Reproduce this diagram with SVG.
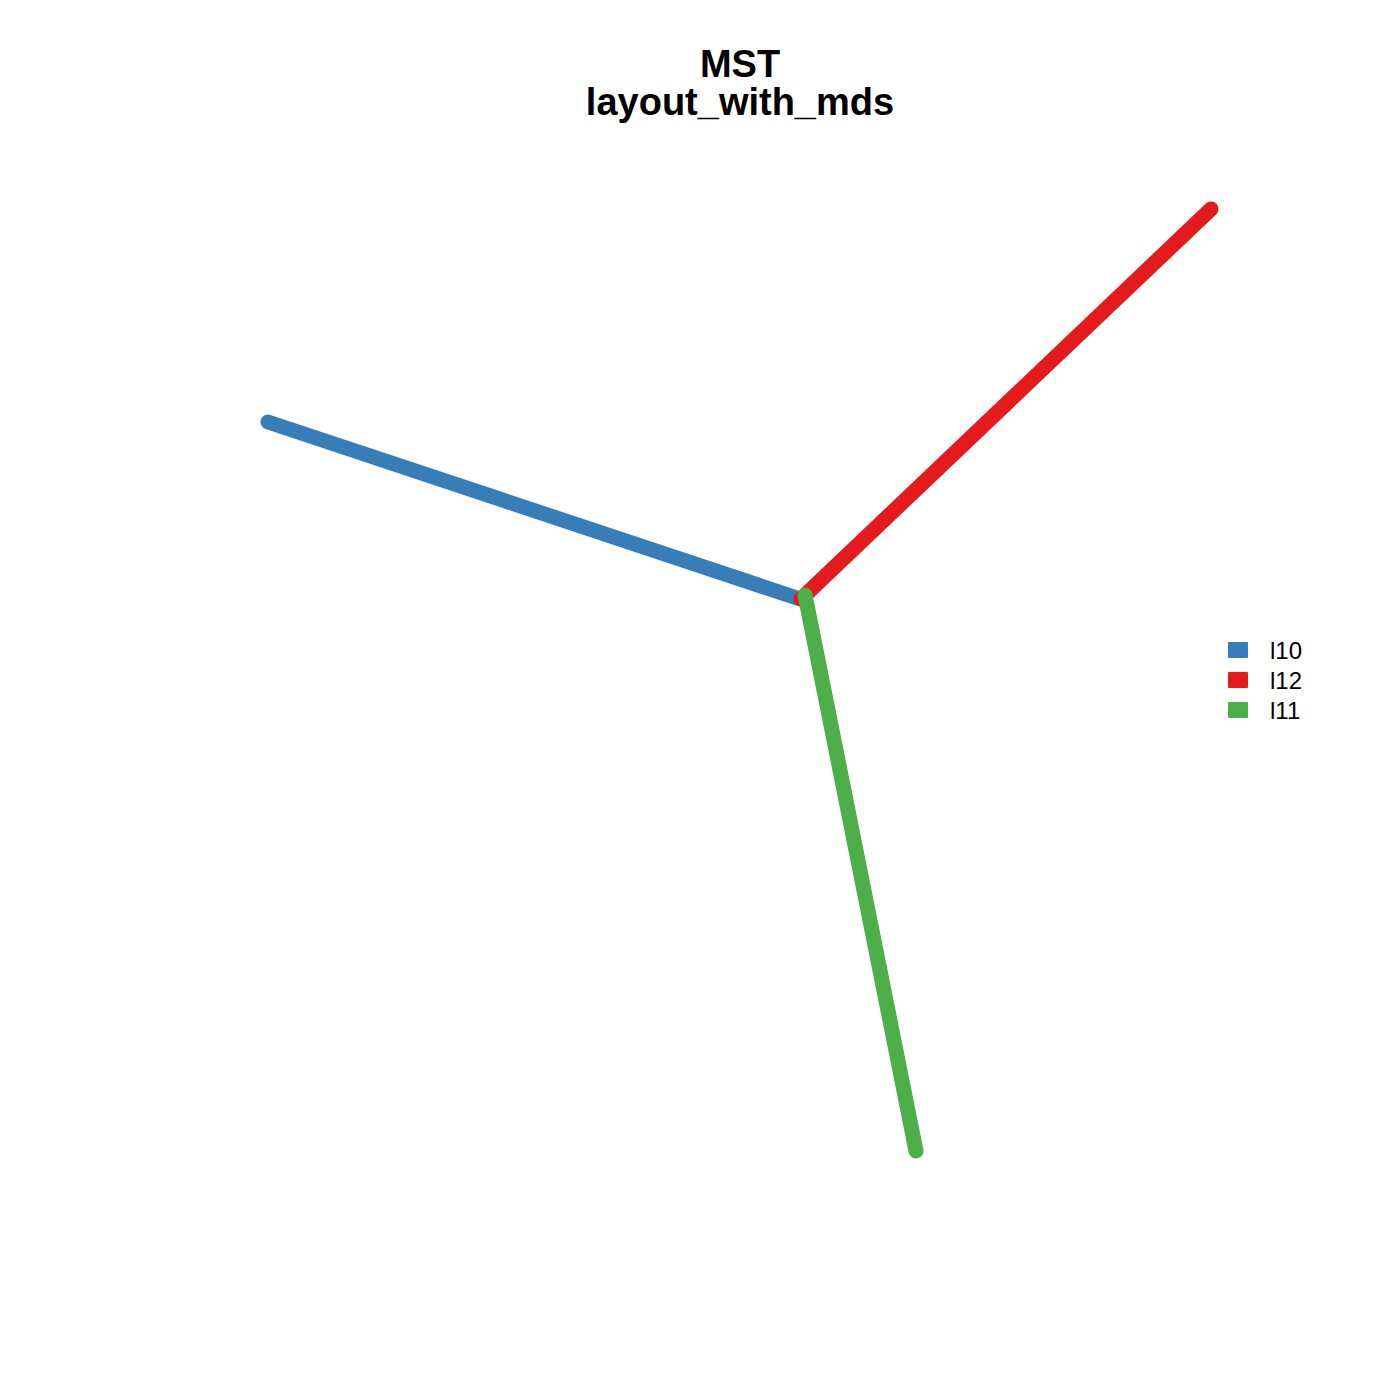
<svg xmlns="http://www.w3.org/2000/svg" width="1400" height="1400" viewBox="0 0 1400 1400">
<style>
.t{font-family:"Liberation Sans",Arial,sans-serif;font-weight:bold;font-size:38px;text-anchor:middle;fill:#000}
.l{font-family:"Liberation Sans",Arial,sans-serif;font-size:24px;fill:#000}
.e{stroke-width:15;stroke-linecap:round;fill:none}
</style>
<rect width="1400" height="1400" fill="#fff"/>
<text class="t" x="740" y="77">MST</text>
<text class="t" x="740" y="115">layout_with_mds</text>
<g id="connectors">
<line class="e" x1="268" y1="422" x2="800" y2="599" stroke="#377EB8"/>
<line class="e" x1="1211" y1="209" x2="801" y2="599" stroke="#E41A1C"/>
<line class="e" x1="805" y1="595" x2="916" y2="1151" stroke="#4DAF4A"/>
</g>
<g id="legend">
<rect x="1228" y="642" width="20" height="16" rx="1" fill="#377EB8"/>
<text class="l" x="1270" y="659">l10</text>
<rect x="1228" y="672" width="20" height="16" rx="1" fill="#E41A1C"/>
<text class="l" x="1270" y="689">l12</text>
<rect x="1228" y="702" width="20" height="16" rx="1" fill="#4DAF4A"/>
<text class="l" x="1270" y="719">l11</text>
</g>
</svg>
